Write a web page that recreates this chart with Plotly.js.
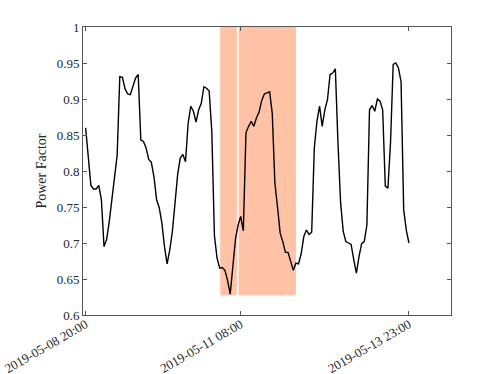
<!DOCTYPE html>
<html>
<head>
<meta charset="utf-8">
<script src="https://cdn.plot.ly/plotly-3.0.1.min.js"></script>
<style>html,body{margin:0;padding:0;background:#fff;}#chart{width:498px;height:374px;}</style>
</head>
<body>
<div id="chart"></div>
<script>
// Sample index (1-based) and power factor values
var powerFactor = [
  0.860, 0.815, 0.780, 0.775, 0.775, 0.780, 0.760, 0.695, 0.705, 0.730,
  0.760, 0.790, 0.822, 0.931, 0.930, 0.914, 0.907, 0.906, 0.918, 0.929,
  0.934, 0.843, 0.841, 0.832, 0.816, 0.812, 0.792, 0.760, 0.749, 0.728,
  0.695, 0.671, 0.690, 0.716, 0.755, 0.795, 0.818, 0.823, 0.813, 0.866,
  0.890, 0.883, 0.868, 0.885, 0.894, 0.917, 0.915, 0.911, 0.855, 0.710,
  0.679, 0.665, 0.666, 0.662, 0.648, 0.629, 0.667, 0.705, 0.725, 0.737,
  0.717, 0.853, 0.862, 0.869, 0.862, 0.874, 0.882, 0.898, 0.907, 0.908,
  0.910, 0.880, 0.783, 0.750, 0.714, 0.702, 0.687, 0.687, 0.674, 0.662,
  0.672, 0.671, 0.685, 0.709, 0.718, 0.712, 0.715, 0.832, 0.869, 0.890,
  0.862, 0.885, 0.899, 0.934, 0.936, 0.942, 0.839, 0.756, 0.716, 0.702,
  0.700, 0.698, 0.677, 0.658, 0.681, 0.699, 0.702, 0.725, 0.885, 0.891,
  0.883, 0.900, 0.897, 0.885, 0.779, 0.776, 0.840, 0.948, 0.950, 0.943,
  0.924, 0.746, 0.718, 0.700
];
var sampleIndex = powerFactor.map(function(_, i){ return i + 1; });

var xTickVals = [1, 60, 124];
var xTickText = ['2019-05-08 20:00', '2019-05-11 08:00', '2019-05-13 23:00'];
var yTickVals = [0.6, 0.65, 0.7, 0.75, 0.8, 0.85, 0.9, 0.95, 1];
var yTickText = ['0.6', '0.65', '0.7', '0.75', '0.8', '0.85', '0.9', '0.95', '1'];

// Highlighted (anomaly) bands in sample-index units
var bandStart = [52.2, 59.2, 77.2];
var bandEnd   = [58.55, 77.2, 81.0];
var bandBottom = 0.627;
var bandTop = 1.0;

var shapes = bandStart.map(function(x0, k){
  var x1 = bandEnd[k];
  var rx = 0.8, ry = 0.004;
  var y0 = bandBottom, y1 = bandTop + 0.01;
  var p = 'M ' + x0 + ',' + y1 +
          ' L ' + x0 + ',' + (y0 + ry) +
          ' Q ' + x0 + ',' + y0 + ' ' + (x0 + rx) + ',' + y0 +
          ' L ' + (x1 - rx) + ',' + y0 +
          ' Q ' + x1 + ',' + y0 + ' ' + x1 + ',' + (y0 + ry) +
          ' L ' + x1 + ',' + y1 + ' Z';
  return {type: 'path', xref: 'x', yref: 'y', path: p,
          fillcolor: '#FEC3A7', line: {width: 0}, layer: 'below'};
});

var trace = {
  x: sampleIndex, y: powerFactor, type: 'scatter', mode: 'lines',
  line: {color: '#000000', width: 1.4}, hoverinfo: 'skip'
};

var serif = '"Liberation Serif", "Times New Roman", Times, serif';

var axisCommon = {
  showline: true, linecolor: '#555555', linewidth: 1, mirror: 'ticks',
  ticks: 'inside', ticklen: 4, tickwidth: 1, tickcolor: '#555555',
  showgrid: false, zeroline: false,
  tickfont: {family: serif, size: 13, color: '#262626'}
};

var layout = {
  width: 498, height: 374,
  margin: {l: 83, r: 47, t: 27, b: 59, pad: 0},
  paper_bgcolor: '#ffffff', plot_bgcolor: '#ffffff',
  font: {family: serif},
  showlegend: false,
  shapes: shapes,
  xaxis: Object.assign({}, axisCommon, {
    range: [0, 140], tickmode: 'array', tickvals: xTickVals, ticktext: xTickText,
    tickangle: -30, ticklabelstandoff: -4
  }),
  yaxis: Object.assign({}, axisCommon, {
    range: [0.6, 1], tickmode: 'array', tickvals: yTickVals, ticktext: yTickText,
    title: {text: 'Power Factor', standoff: 6,
            font: {family: serif, size: 14, color: '#262626'}}
  })
};

Plotly.newPlot('chart', [trace], layout, {staticPlot: true, displayModeBar: false});
</script>
</body>
</html>
